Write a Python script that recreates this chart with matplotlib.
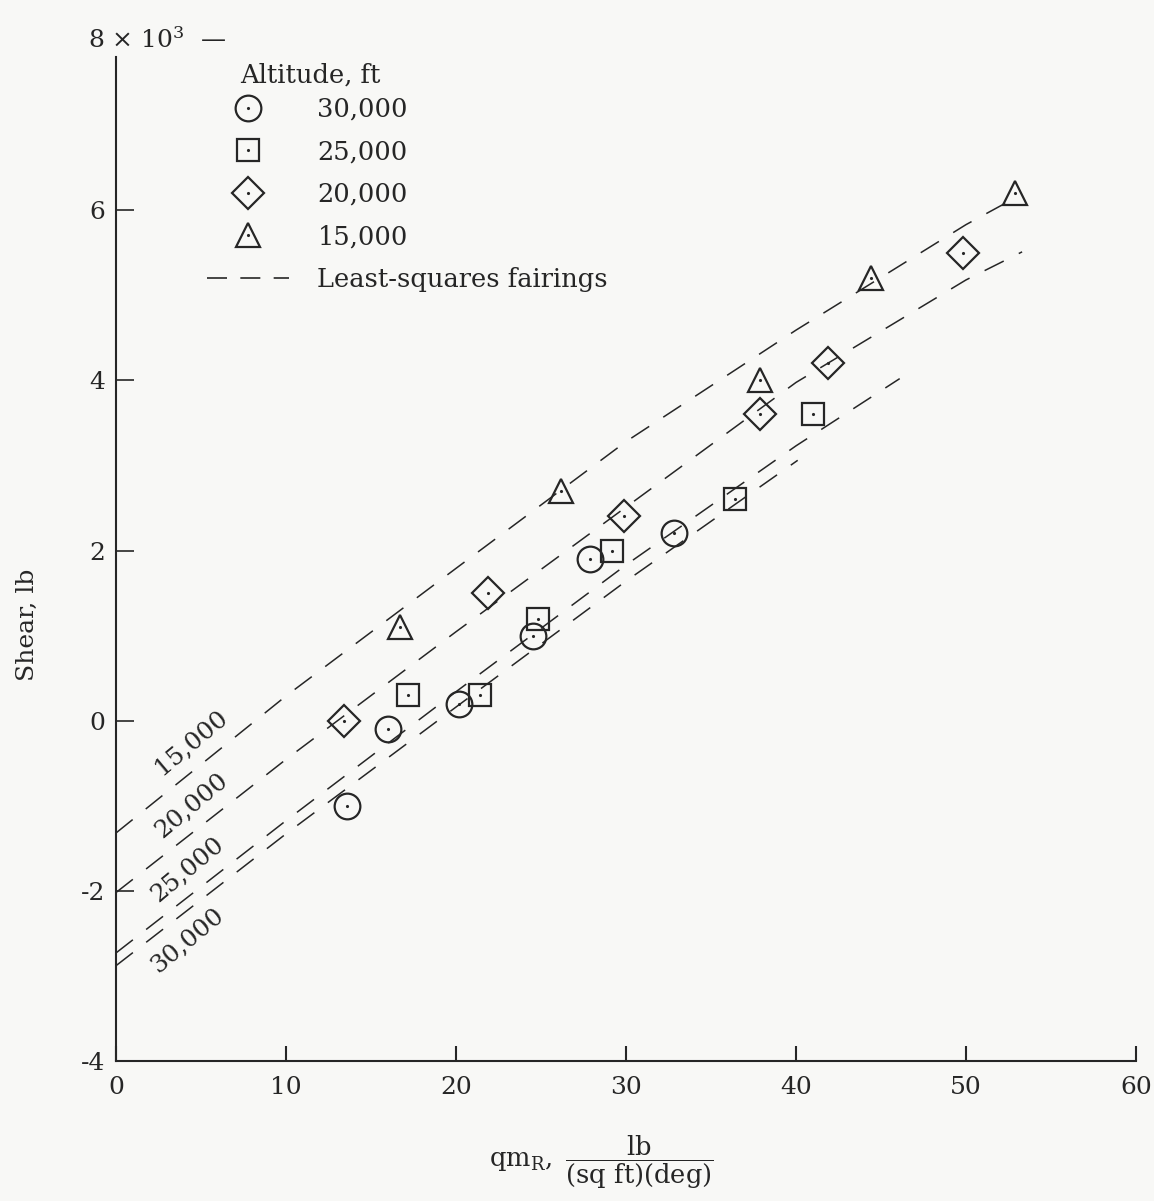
import matplotlib
matplotlib.use("Agg")
import matplotlib.pyplot as plt
from matplotlib.lines import Line2D
from matplotlib.legend_handler import HandlerTuple

plt.rcParams['font.family'] = ['DejaVu Serif']
plt.rcParams['mathtext.fontset'] = 'dejavuserif'

encre = '#262626'
papier = '#f8f8f6'

# --- Données ---
altitudes = ["30,000", "25,000", "20,000", "15,000"]
marqueurs = ["o", "s", "D", "^"]
tailles = [18.5, 15.8, 16.8, 17.5]

qm_30k = [13.6, 16.0, 20.2, 24.5, 27.9, 32.8]
shear_30k = [-1000, -100, 200, 1000, 1900, 2200]
qm_25k = [17.2, 21.4, 24.8, 29.2, 36.4, 41.0]
shear_25k = [300, 300, 1200, 2000, 2600, 3600]
qm_20k = [13.4, 21.9, 29.9, 37.9, 41.9, 49.8]
shear_20k = [0, 1500, 2400, 3600, 4200, 5500]
qm_15k = [16.7, 26.2, 37.9, 44.4, 52.9]
shear_15k = [1100, 2700, 4000, 5200, 6200]

# courbes de lissage (moindres carrés)
fair_qm_30k = [0, 10, 20, 30, 40.1]
fair_sh_30k = [-2880, -1330, 160, 1640, 3060]
fair_qm_25k = [0, 10, 20, 30, 40, 46.1]
fair_sh_25k = [-2730, -1175, 340, 1830, 3230, 4020]
fair_qm_20k = [0, 10, 20, 30, 40, 50, 53.3]
fair_sh_20k = [-2020, -455, 1045, 2510, 3975, 5180, 5510]
fair_qm_15k = [0, 10, 20, 30, 40, 50, 52.3]
fair_sh_15k = [-1320, 290, 1790, 3280, 4590, 5830, 6080]

# position des étiquettes des courbes
etiq_qm = [4.2, 4.2, 4.45, 4.45]
etiq_sh = [-2590, -1745, -1000, -255]

x_ticks = [0, 10, 20, 30, 40, 50, 60]
y_ticks = [-4000, -2000, 0, 2000, 4000, 6000]
y_ticklabels = ["-4", "-2", "0", "2", "4", "6"]

points = [(qm_30k, shear_30k), (qm_25k, shear_25k), (qm_20k, shear_20k), (qm_15k, shear_15k)]
lissages = [(fair_qm_30k, fair_sh_30k), (fair_qm_25k, fair_sh_25k),
            (fair_qm_20k, fair_sh_20k), (fair_qm_15k, fair_sh_15k)]

# --- Figure ---
fig = plt.figure(figsize=(11.54, 12.01), dpi=100, facecolor=papier)
ax = fig.add_axes([116 / 1154, 140 / 1201, 1020 / 1154, 1021 / 1201])
ax.set_facecolor(papier)
ax.set_xlim(0, 60)
ax.set_ylim(-4000, 8000)

for (qx, qy) in lissages:
    ax.plot(qx, qy, color=encre, lw=1.1, dashes=(14, 11), zorder=1)

for (qx, qy), m, s in zip(points, marqueurs, tailles):
    ax.plot(qx, qy, ls='none', marker=m, ms=s, mfc='none', mec=encre, mew=1.6, zorder=3)
    ax.plot(qx, qy, ls='none', marker='.', ms=2.5, color=encre, zorder=4)

for alt, ex, ey in zip(altitudes, etiq_qm, etiq_sh):
    ax.text(ex, ey, alt, rotation=40, ha='center', va='center', fontsize=18,
            color=encre, rotation_mode='anchor')

# --- Axes ---
for cote in ['top', 'right']:
    ax.spines[cote].set_visible(False)
ax.spines['left'].set_bounds(-4000, 7800)
ax.spines['left'].set_linewidth(1.5)
ax.spines['bottom'].set_linewidth(1.5)
ax.spines['left'].set_color(encre)
ax.spines['bottom'].set_color(encre)

ax.set_xticks(x_ticks)
ax.set_xticklabels([str(v) for v in x_ticks])
ax.set_yticks(y_ticks)
ax.set_yticklabels(y_ticklabels)
ax.tick_params(axis='x', direction='in', length=11, width=1.5, pad=11,
               labelsize=18, colors=encre)
ax.tick_params(axis='y', direction='in', length=13, width=1.2, pad=8,
               labelsize=18, colors=encre)

ax.annotate("8 $\\times$ 10$^3$  —", xy=(0, 8000), xytext=(-20, 0),
            textcoords='offset points', ha='left', va='center',
            fontsize=18, color=encre)

ax.set_ylabel("Shear, lb", fontsize=18, color=encre)
ax.yaxis.set_label_coords(-0.076, 0.427)

ax.set_xlabel(r"$\mathrm{qm_R},\ \dfrac{\mathrm{lb}}{\mathrm{(sq\ ft)(deg)}}$",
              fontsize=18.5, color=encre)
ax.xaxis.set_label_coords((601 - 116) / 1020, -0.071)

# --- Légende ---
fig.text(240 / 1154, 1 - 75 / 1201, "Altitude, ft", ha='left', va='center',
         fontsize=18.5, color=encre)

poignees = []
for m, s in zip(marqueurs, tailles):
    h1 = Line2D([], [], ls='none', marker=m, ms=s, mfc='none', mec=encre, mew=1.6)
    h2 = Line2D([], [], ls='none', marker='.', ms=2.5, color=encre)
    poignees.append((h1, h2))
poignees.append(Line2D([], [], color=encre, lw=1.2, dashes=(12, 8)))
etiquettes = altitudes + ["Least-squares fairings"]

leg = ax.legend(poignees, etiquettes,
                handler_map={tuple: HandlerTuple(ndivide=1, pad=0)},
                loc='upper left', bbox_to_anchor=(207 / 1154, 1 - 97 / 1201),
                bbox_transform=fig.transFigure, frameon=False,
                fontsize=18.5, handlelength=3.2,
                handletextpad=1.1, labelspacing=0.68, borderpad=0,
                borderaxespad=0)
for t in leg.get_texts():
    t.set_color(encre)

fig.savefig("out.png", dpi=100, facecolor=papier)
